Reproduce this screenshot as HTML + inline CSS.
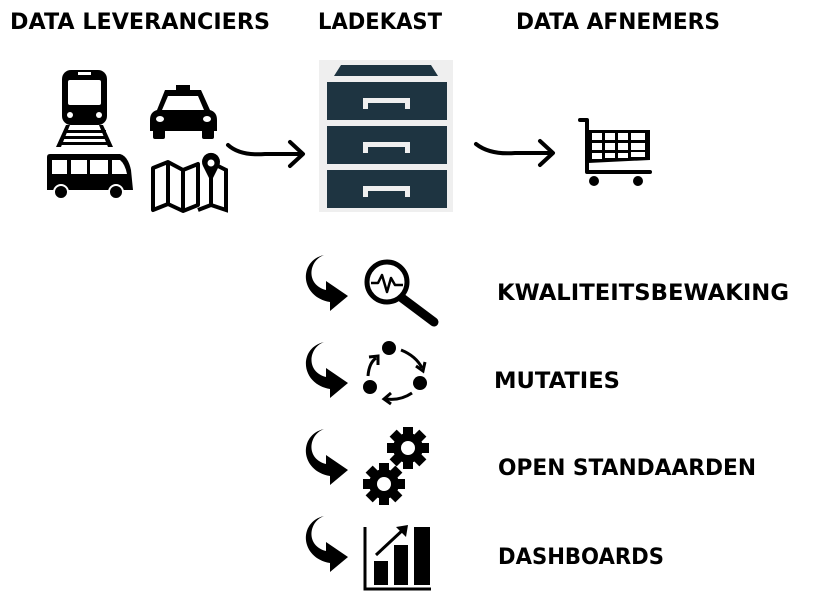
<!DOCTYPE html>
<html><head><meta charset="utf-8"><style>
html,body{margin:0;padding:0;background:#fff;width:839px;height:615px;overflow:hidden}
text{font-family:"DejaVu Sans","Liberation Sans",sans-serif;font-weight:bold;fill:#000}
</style></head><body>
<svg width="839" height="615" viewBox="0 0 839 615" xmlns="http://www.w3.org/2000/svg">
<defs>
<g id="carr">
 <path d="M12 0 C-4 6 -6 30 14 35 L14 26 L36 41 L18 56 L18 47 C-12 42 -14 6 12 0 Z" fill="#000"/>
</g>
<g id="gear">
 <g fill="#000">
  <circle r="15"/>
  <rect x="-5" y="-21" width="10" height="42"/>
  <rect x="-5" y="-21" width="10" height="42" transform="rotate(45)"/>
  <rect x="-5" y="-21" width="10" height="42" transform="rotate(90)"/>
  <rect x="-5" y="-21" width="10" height="42" transform="rotate(135)"/>
 </g>
 <circle r="7" fill="#fff"/>
</g>
</defs>
<text x="10" y="29" font-size="22" textLength="260" lengthAdjust="spacingAndGlyphs">DATA LEVERANCIERS</text>
<text x="318" y="29" font-size="22" textLength="124" lengthAdjust="spacingAndGlyphs">LADEKAST</text>
<text x="516" y="29" font-size="22" textLength="204" lengthAdjust="spacingAndGlyphs">DATA AFNEMERS</text>

<rect x="62" y="70" width="45" height="55" rx="9" fill="#000"/>
<rect x="68" y="80" width="33" height="25" rx="2" fill="#fff"/>
<rect x="78" y="72" width="13" height="3" fill="#fff"/>
<circle cx="70" cy="115" r="3" fill="#fff"/><circle cx="99" cy="115" r="3" fill="#fff"/>
<path d="M66 125 L56 147 L61 147 L70 125 Z M99 125 L108 147 L113 147 L103 125 Z" fill="#000"/>
<rect x="64" y="130" width="42" height="3" fill="#000"/><rect x="62" y="136" width="46" height="3" fill="#000"/><rect x="60" y="142" width="50" height="3" fill="#000"/>
<path d="M47 157 Q47 154 50 154 L120 154 Q128 156 131 170 L133 190 L47 190 Z" fill="#000"/>
<rect x="52" y="160" width="15" height="14" fill="#fff"/><rect x="71" y="160" width="16" height="14" fill="#fff"/><rect x="90" y="160" width="18" height="14" fill="#fff"/>
<path d="M112 160 L120 160 Q125 164 127 174 L112 174 Z" fill="#fff"/>
<circle cx="61" cy="192" r="7" fill="#000" stroke="#fff" stroke-width="2"/><circle cx="116" cy="192" r="7" fill="#000" stroke="#fff" stroke-width="2"/>
<rect x="176" y="85" width="14" height="5" fill="#000"/>
<path d="M165 90 L201 90 L210 110 Q217 112 217 120 L217 131 L150 131 L150 120 Q150 112 157 110 Z" fill="#000"/>
<path d="M168 96 L198 96 L204 110 L162 110 Z" fill="#fff"/>
<rect x="153" y="128" width="12" height="11" rx="2" fill="#000"/><rect x="202" y="128" width="12" height="11" rx="2" fill="#000"/>
<ellipse cx="160" cy="119" rx="4" ry="3" fill="#fff"/><ellipse cx="207" cy="119" rx="4" ry="3" fill="#fff"/>
<path d="M153 168 L168 162 L183 170 L198 164 L198 205 L183 211 L168 204 L153 210 Z M168 162 L168 204 M183 170 L183 211" fill="none" stroke="#000" stroke-width="4" stroke-linejoin="round"/>
<path d="M211 158 L211 205 L198 210 M211 205 L226 210 L226 170 L218 166" fill="none" stroke="#000" stroke-width="4"/>
<path d="M211 182 L203 166 A9 9 0 1 1 219 166 Z" fill="#000"/><circle cx="211" cy="163" r="3.5" fill="#fff"/>
<path d="M228 145 Q240 156 265 154 L300 154" fill="none" stroke="#000" stroke-width="4" stroke-linecap="round"/>
<path d="M290 142 L303 154 L290 166" fill="none" stroke="#000" stroke-width="4" stroke-linecap="round" stroke-linejoin="round"/>
<rect x="319" y="60" width="134" height="152" fill="#efefef"/>
<path d="M334 76 L341 65 L431 65 L438 76 Z" fill="#1e3441"/>
<rect x="327" y="82" width="120" height="38" fill="#1e3441"/>
<rect x="327" y="126" width="120" height="38" fill="#1e3441"/>
<rect x="327" y="170" width="120" height="38" fill="#1e3441"/>
<g fill="#efefef">
<path d="M363 98 L410 98 L410 109 L405 109 L405 103 L368 103 L368 109 L363 109 Z"/>
<path d="M363 142 L410 142 L410 153 L405 153 L405 147 L368 147 L368 153 L363 153 Z"/>
<path d="M363 186 L410 186 L410 197 L405 197 L405 191 L368 191 L368 197 L363 197 Z"/>
</g>
<path d="M476 144 Q490 155 515 153 L552 153" fill="none" stroke="#000" stroke-width="4" stroke-linecap="round"/>
<path d="M540 141 L553 153 L540 165" fill="none" stroke="#000" stroke-width="4" stroke-linecap="round" stroke-linejoin="round"/>
<path d="M580 120 L587 120 L587 172 L650 172" fill="none" stroke="#000" stroke-width="4" stroke-linecap="round" stroke-linejoin="round"/>
<path d="M588 130 L650 130 L650 160 L588 163 Z" fill="#000"/>
<g fill="#fff">
<rect x="592" y="133" width="10" height="7"/><rect x="605" y="133" width="10" height="7"/><rect x="618" y="133" width="10" height="7"/><rect x="631" y="133" width="14" height="7"/>
<rect x="592" y="143" width="10" height="7"/><rect x="605" y="143" width="10" height="7"/><rect x="618" y="143" width="10" height="7"/><rect x="631" y="143" width="14" height="7"/>
<rect x="592" y="153" width="10" height="6"/><rect x="605" y="153" width="10" height="5"/><rect x="618" y="153" width="10" height="5"/><rect x="631" y="152" width="14" height="5"/>
</g>
<circle cx="594" cy="181" r="5" fill="#000"/><circle cx="638" cy="181" r="5" fill="#000"/>

<use href="#carr" x="312" y="255"/>
<use href="#carr" x="312" y="342"/>
<use href="#carr" x="312" y="429"/>
<use href="#carr" x="312" y="516"/>

<circle cx="387" cy="282" r="20" fill="none" stroke="#000" stroke-width="5"/>
<path d="M371 283 L378 283 L382 275 L387 292 L391 278 L395 285 L403 285" fill="none" stroke="#000" stroke-width="2.5" stroke-linejoin="round"/>
<path d="M402 298 L434 322" stroke="#000" stroke-width="9" stroke-linecap="round"/>
<circle cx="389" cy="348" r="7" fill="#000"/><circle cx="420" cy="383" r="7" fill="#000"/><circle cx="370" cy="387" r="7" fill="#000"/>
<path d="M401 350 Q416 356 422 368" fill="none" stroke="#000" stroke-width="3"/><path d="M416 366 L423 371 L425 362" fill="none" stroke="#000" stroke-width="3"/>
<path d="M412 393 Q400 401 386 399" fill="none" stroke="#000" stroke-width="3"/><path d="M391 393 L384 399 L391 404" fill="none" stroke="#000" stroke-width="3"/>
<path d="M368 376 Q369 363 376 358" fill="none" stroke="#000" stroke-width="3"/><path d="M369 357 L378 356 L378 365" fill="none" stroke="#000" stroke-width="3"/>
<use href="#gear" x="408" y="448"/>
<use href="#gear" x="384" y="484"/>
<path d="M365 527 L365 589 L431 589" fill="none" stroke="#000" stroke-width="3"/>
<rect x="374" y="561" width="14" height="24" fill="#000"/>
<rect x="394" y="545" width="14" height="40" fill="#000"/>
<rect x="414" y="527" width="16" height="58" fill="#000"/>
<path d="M376 555 L405 528" stroke="#000" stroke-width="3"/><path d="M396 527 L408 525 L406 537 Z" fill="#000"/>

<text x="497" y="300" font-size="22" textLength="292" lengthAdjust="spacingAndGlyphs">KWALITEITSBEWAKING</text>
<text x="494" y="388" font-size="22" textLength="126" lengthAdjust="spacingAndGlyphs">MUTATIES</text>
<text x="498" y="475" font-size="22" textLength="258" lengthAdjust="spacingAndGlyphs">OPEN STANDAARDEN</text>
<text x="498" y="564" font-size="22" textLength="166" lengthAdjust="spacingAndGlyphs">DASHBOARDS</text>
</svg>
</body></html>
